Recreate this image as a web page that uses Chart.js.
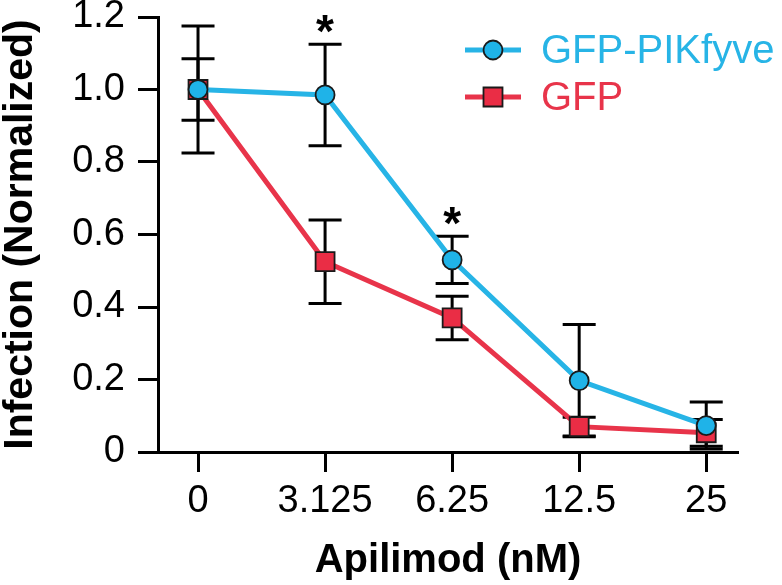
<!DOCTYPE html>
<html>
<head>
<meta charset="utf-8">
<script src="https://cdn.jsdelivr.net/npm/chart.js@4"></script>
<style>
  html, body { margin: 0; padding: 0; background: #fff; }
  #wrap { width: 782px; height: 585px; }
</style>
</head>
<body>
<div id="wrap"><canvas id="chart" width="782" height="585"></canvas></div>
<script>
// values
var doses = ['0', '3.125', '6.25', '12.5', '25'];
var pikfyveMean = [1.0, 0.985, 0.53, 0.197, 0.073];
var pikfyveErr = [0.175, 0.14, 0.065, 0.155, 0.065];
var gfpMean = [1.0, 0.525, 0.37, 0.07, 0.053];
var gfpErr = [0.085, 0.115, 0.06, 0.026, 0.037];
var significant = [false, true, true, false, false];
var yTicks = [0, 0.2, 0.4, 0.6, 0.8, 1.0, 1.2];

var FONT = '"Liberation Sans", Arial, Helvetica, sans-serif';
var CYAN = '#27b4e6';
var RED = '#e8344a';

Chart.defaults.font.family = FONT;
Chart.defaults.color = '#000';

function toPoints(vals) {
    return vals.map(function (v, i) { return { x: i, y: v }; });
}

var errorBars = {
    id: 'errorBars',
    beforeDatasetsDraw: function (chart) {
        var ctx = chart.ctx;
        var xs = chart.scales.x, ys = chart.scales.y;
        ctx.save();
        ctx.strokeStyle = '#000';
        ctx.lineWidth = 3;
        chart.data.datasets.forEach(function (ds) {
            ds.means.forEach(function (m, i) {
                var x = xs.getPixelForValue(i);
                var top = ys.getPixelForValue(m + ds.errs[i]);
                var bot = ys.getPixelForValue(Math.max(0, m - ds.errs[i]));
                ctx.beginPath();
                ctx.moveTo(x, top); ctx.lineTo(x, bot);
                ctx.moveTo(x - 16.5, top); ctx.lineTo(x + 16.5, top);
                ctx.moveTo(x - 16.5, bot); ctx.lineTo(x + 16.5, bot);
                ctx.stroke();
            });
        });
        ctx.restore();
    },
    afterDatasetsDraw: function (chart) {
        var ctx = chart.ctx;
        var xs = chart.scales.x, ys = chart.scales.y;
        var ds = chart.data.datasets[0];
        ctx.save();
        ctx.font = 'bold 46px ' + FONT;
        ctx.textAlign = 'center';
        ctx.textBaseline = 'alphabetic';
        ctx.fillStyle = '#000';
        significant.forEach(function (s, i) {
            if (!s) return;
            var top = ys.getPixelForValue(ds.means[i] + ds.errs[i]);
            ctx.fillText('*', xs.getPixelForValue(i), top + 3);
        });
        ctx.restore();
    }
};

var legendBox = {
    id: 'legendBox',
    afterDraw: function (chart) {
        var ctx = chart.ctx;
        var rows = [50, 97];
        ctx.save();
        chart.data.datasets.forEach(function (ds, i) {
            var y = rows[i];
            ctx.strokeStyle = ds.borderColor;
            ctx.lineWidth = 5;
            ctx.beginPath();
            ctx.moveTo(465, y); ctx.lineTo(521, y);
            ctx.stroke();
            ctx.fillStyle = ds.pointBackgroundColor;
            ctx.strokeStyle = ds.pointBorderColor;
            ctx.lineWidth = ds.pointBorderWidth;
            ctx.beginPath();
            if (ds.pointStyle === 'rect') {
                ctx.rect(493 - 9.5, y - 9.5, 19, 19);
            } else {
                ctx.arc(493, y, ds.pointRadius, 0, Math.PI * 2);
            }
            ctx.fill();
            ctx.stroke();
            ctx.font = '40px ' + FONT;
            ctx.textBaseline = 'middle';
            ctx.textAlign = 'left';
            ctx.fillStyle = ds.borderColor;
            ctx.fillText(ds.label, 541, y + 2);
        });
        ctx.restore();
    }
};

new Chart(document.getElementById('chart'), {
    type: 'line',
    data: {
        datasets: [{
            label: 'GFP-PIKfyve',
            data: toPoints(pikfyveMean),
            means: pikfyveMean,
            errs: pikfyveErr,
            borderColor: CYAN,
            borderWidth: 5,
            pointStyle: 'circle',
            pointRadius: 9.5,
            pointBackgroundColor: '#1fb3e8',
            pointBorderColor: '#1a1a1a',
            pointBorderWidth: 1.8
        }, {
            label: 'GFP',
            data: toPoints(gfpMean),
            means: gfpMean,
            errs: gfpErr,
            borderColor: RED,
            borderWidth: 5,
            pointStyle: 'rect',
            pointRadius: 13.4,
            pointBackgroundColor: '#ea2d45',
            pointBorderColor: '#1a1a1a',
            pointBorderWidth: 1.8
        }]
    },
    options: {
        responsive: false,
        animation: false,
        layout: { padding: { top: 0, right: 44, bottom: 0, left: 0 } },
        plugins: { legend: { display: false }, tooltip: { enabled: false } },
        scales: {
            x: {
                type: 'linear',
                min: -0.315,
                max: 4.25,
                afterBuildTicks: function (scale) {
                    scale.ticks = doses.map(function (d, i) { return { value: i }; });
                },
                afterFit: function (scale) {
                    scale.height = 133;
                    scale.paddingLeft = 0;
                    scale.paddingRight = 0;
                },
                ticks: {
                    autoSkip: false,
                    maxRotation: 0,
                    padding: 7,
                    font: { size: 38 },
                    callback: function (v) { return doses[v]; }
                },
                grid: { drawOnChartArea: false, drawTicks: true, tickLength: 20, tickWidth: 3, tickColor: '#000' },
                border: { display: true, color: '#000', width: 3 },
                title: { display: true, text: 'Apilimod (nM)', font: { size: 40, weight: 'bold' }, padding: 0 }
            },
            y: {
                min: 0,
                max: 1.2,
                afterBuildTicks: function (scale) {
                    scale.ticks = yTicks.map(function (v) { return { value: v }; });
                },
                afterFit: function (scale) {
                    scale.width = 158;
                    scale.paddingTop = 17;
                    scale.paddingBottom = 0;
                },
                ticks: {
                    padding: 13,
                    font: { size: 38 },
                    callback: function (v) { return v === 0 ? '0' : v.toFixed(1); }
                },
                grid: { drawOnChartArea: false, drawTicks: true, tickLength: 20, tickWidth: 3, tickColor: '#000' },
                border: { display: true, color: '#000', width: 3 },
                title: { display: true, text: 'Infection (Normalized)', font: { size: 41, weight: 'bold' }, padding: { top: -4 } }
            }
        }
    },
    plugins: [errorBars, legendBox]
});
</script>
</body>
</html>
